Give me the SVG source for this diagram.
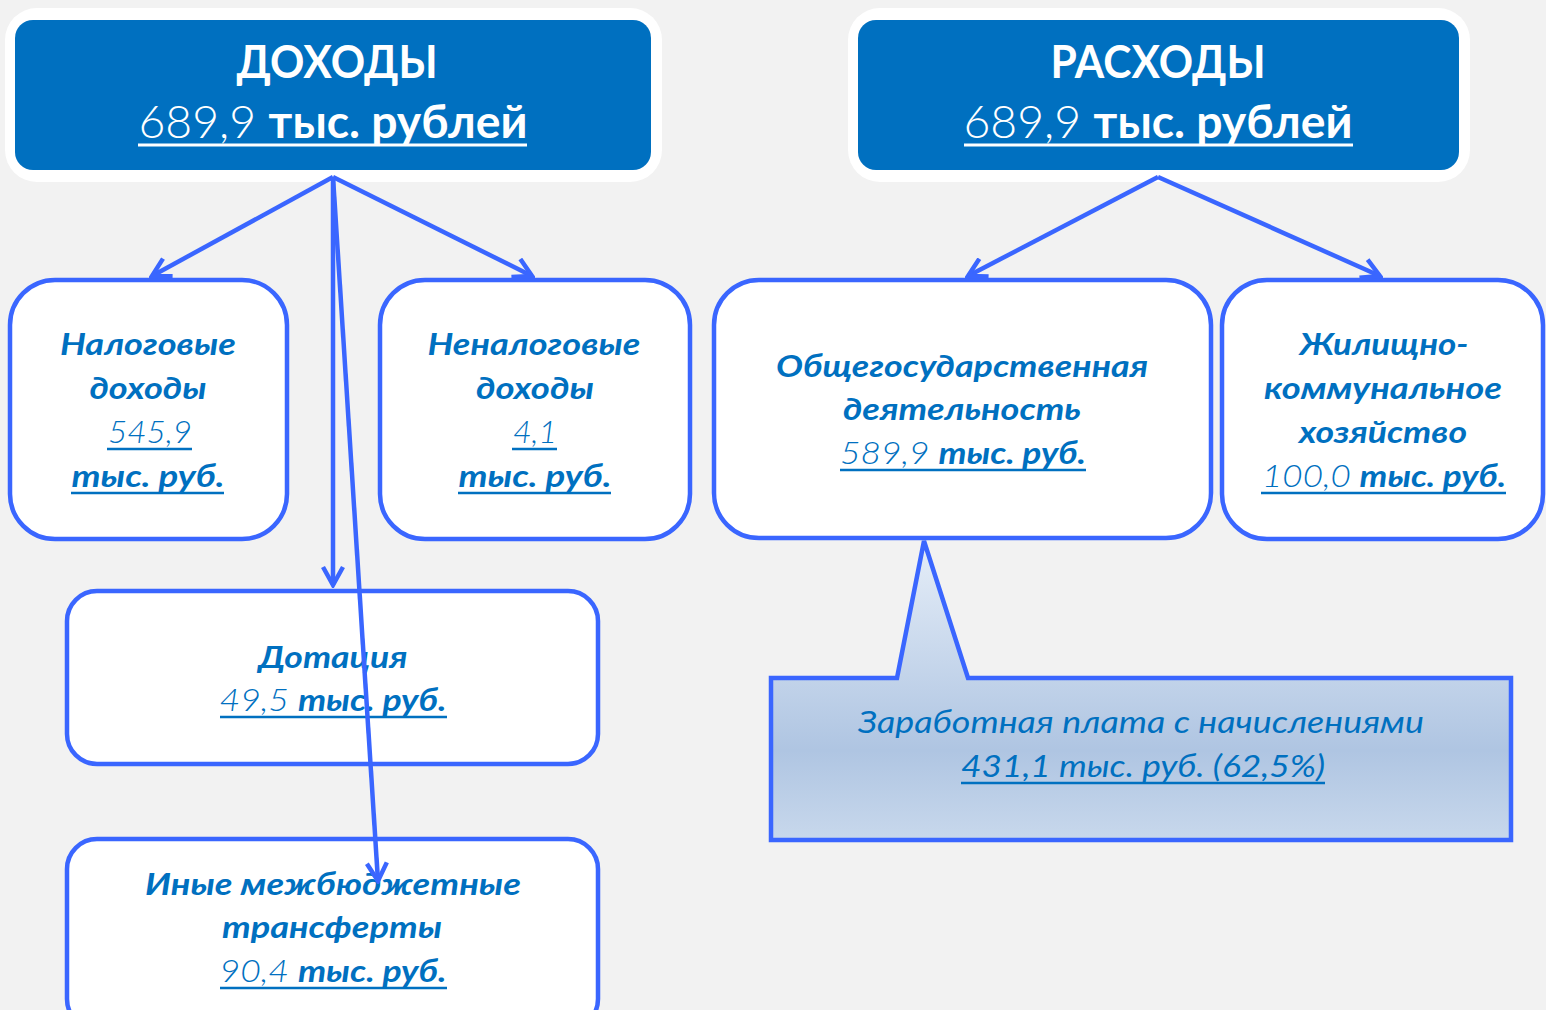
<svg xmlns="http://www.w3.org/2000/svg" width="1546" height="1010" viewBox="0 0 1546 1010">
<style>
.bg{fill:#f2f2f2}
.outer{fill:#ffffff}
.inner{fill:#0070c0}
.node{fill:#ffffff;stroke:#3a66ff;stroke-width:4.5}
.conn{stroke:#3a66ff;stroke-width:4.5;fill:none}
text{font-family:Lato,"Open Sans","Liberation Sans",sans-serif;text-anchor:middle}
.h{fill:#ffffff;font-size:46px;font-weight:bold}
.hn{fill:#ffffff;font-size:46px}
.t{fill:#0070c0;font-size:31px;font-weight:bold;font-style:italic}
.c{fill:#0070c0;font-size:31px;font-style:italic;font-weight:normal}
.l{font-weight:300}
.b{font-weight:bold}
.ul{stroke:#0070c0;stroke-width:2.5}
.ulw{stroke:#ffffff;stroke-width:3}
</style>
<defs>
<marker id="arr" viewBox="0 0 24 24" refX="21" refY="12" markerWidth="24" markerHeight="24" markerUnits="userSpaceOnUse" orient="auto">
<path d="M3,2 L21,12 L3,22" fill="none" stroke="#3a66ff" stroke-width="4.5" stroke-linejoin="miter"/>
</marker>
<linearGradient id="cg" x1="0" y1="0" x2="0" y2="1">
<stop offset="0" stop-color="#e6eef8"/>
<stop offset="0.7" stop-color="#afc5e2"/>
<stop offset="1" stop-color="#c8d8ec"/>
</linearGradient>
</defs>
<rect class="bg" x="0" y="0" width="1546" height="1010"/>

<g id="dohody">
<rect class="outer" x="5" y="8" width="657" height="174" rx="32"/>
<rect class="inner" x="15" y="20" width="636" height="150" rx="18"/>
<text class="h" x="337" y="78" textLength="201" lengthAdjust="spacingAndGlyphs">ДОХОДЫ</text>
<text class="hn" x="333" y="138" textLength="389" lengthAdjust="spacingAndGlyphs"><tspan class="l">689,9 </tspan><tspan class="b">тыс. рублей</tspan></text>
<line class="ulw" x1="138" y1="145" x2="527" y2="145"/>
</g>

<g id="rashody">
<rect class="outer" x="848" y="8" width="622" height="174" rx="32"/>
<rect class="inner" x="858" y="20" width="601" height="150" rx="18"/>
<text class="h" x="1158" y="78" textLength="215" lengthAdjust="spacingAndGlyphs">РАСХОДЫ</text>
<text class="hn" x="1158" y="138" textLength="389" lengthAdjust="spacingAndGlyphs"><tspan class="l">689,9 </tspan><tspan class="b">тыс. рублей</tspan></text>
<line class="ulw" x1="964" y1="145" x2="1353" y2="145"/>
</g>

<g id="nalogovye">
<rect class="node" x="10" y="280" width="277" height="259" rx="45"/>
<text class="t" x="148" y="355" textLength="176" lengthAdjust="spacingAndGlyphs">Налоговые</text>
<text class="t" x="148" y="399" textLength="117" lengthAdjust="spacingAndGlyphs">доходы</text>
<text class="t l" x="150" y="443" textLength="84" lengthAdjust="spacingAndGlyphs">545,9</text>
<line class="ul" x1="107" y1="449" x2="192" y2="449"/>
<text class="t" x="148" y="487" textLength="153" lengthAdjust="spacingAndGlyphs">тыс. руб.</text>
<line class="ul" x1="71" y1="493" x2="224" y2="493"/>
</g>

<g id="nenalogovye">
<rect class="node" x="380" y="280" width="310" height="259" rx="45"/>
<text class="t" x="534" y="355" textLength="213" lengthAdjust="spacingAndGlyphs">Неналоговые</text>
<text class="t" x="535" y="399" textLength="118" lengthAdjust="spacingAndGlyphs">доходы</text>
<text class="t l" x="535" y="443" textLength="44" lengthAdjust="spacingAndGlyphs">4,1</text>
<line class="ul" x1="512" y1="449" x2="557" y2="449"/>
<text class="t" x="535" y="487" textLength="153" lengthAdjust="spacingAndGlyphs">тыс. руб.</text>
<line class="ul" x1="458" y1="493" x2="611" y2="493"/>
</g>

<g id="obshchegos">
<rect class="node" x="714" y="280" width="497" height="258" rx="45"/>
<text class="t" x="962" y="377" textLength="372" lengthAdjust="spacingAndGlyphs">Общегосударственная</text>
<text class="t" x="962" y="420" textLength="238" lengthAdjust="spacingAndGlyphs">деятельность</text>
<text class="t" x="963" y="464" textLength="246" lengthAdjust="spacingAndGlyphs"><tspan class="l">589,9 </tspan><tspan class="b">тыс. руб.</tspan></text>
<line class="ul" x1="840" y1="470" x2="1086" y2="470"/>
</g>

<g id="zhkh">
<rect class="node" x="1222" y="280" width="321" height="259" rx="45"/>
<text class="t" x="1384" y="355" textLength="169" lengthAdjust="spacingAndGlyphs">Жилищно-</text>
<text class="t" x="1383" y="399" textLength="238" lengthAdjust="spacingAndGlyphs">коммунальное</text>
<text class="t" x="1383" y="443" textLength="168" lengthAdjust="spacingAndGlyphs">хозяйство</text>
<text class="t" x="1384" y="487" textLength="244" lengthAdjust="spacingAndGlyphs"><tspan class="l">100,0 </tspan><tspan class="b">тыс. руб.</tspan></text>
<line class="ul" x1="1261" y1="493" x2="1506" y2="493"/>
</g>

<g id="dotatsia">
<rect class="node" x="67" y="591" width="531" height="173" rx="30"/>
<text class="t" x="333" y="668" textLength="149" lengthAdjust="spacingAndGlyphs">Дотация</text>
<text class="t" x="333" y="711" textLength="227" lengthAdjust="spacingAndGlyphs"><tspan class="l">49,5 </tspan><tspan class="b">тыс. руб.</tspan></text>
<line class="ul" x1="220" y1="717" x2="447" y2="717"/>
</g>

<g id="inye">
<rect class="node" x="67" y="839" width="531" height="190" rx="30"/>
<text class="t" x="333" y="895" textLength="376" lengthAdjust="spacingAndGlyphs">Иные межбюджетные</text>
<text class="t" x="332" y="938" textLength="220" lengthAdjust="spacingAndGlyphs">трансферты</text>
<text class="t" x="333" y="982" textLength="227" lengthAdjust="spacingAndGlyphs"><tspan class="l">90,4 </tspan><tspan class="b">тыс. руб.</tspan></text>
<line class="ul" x1="220" y1="988" x2="447" y2="988"/>
</g>

<g id="zarplata">
<path d="M771,678 L897,678 L924,541 L968,678 L1511,678 L1511,840 L771,840 Z" fill="url(#cg)" stroke="#3a66ff" stroke-width="4.5" stroke-linejoin="miter"/>
<text class="c" x="1141" y="733" textLength="566" lengthAdjust="spacingAndGlyphs">Заработная плата с начислениями</text>
<text class="c" x="1143" y="777" textLength="364" lengthAdjust="spacingAndGlyphs">431,1 тыс. руб. (62,5%)</text>
<line class="ul" x1="961" y1="783" x2="1325" y2="783"/>
</g>

<g id="connectors">
<line class="conn" x1="333" y1="177" x2="152" y2="276" marker-end="url(#arr)"/>
<line class="conn" x1="333" y1="177" x2="532" y2="276" marker-end="url(#arr)"/>
<line class="conn" x1="333" y1="177" x2="333" y2="585" marker-end="url(#arr)"/>
<line class="conn" x1="333" y1="177" x2="378" y2="881" marker-end="url(#arr)"/>
<line class="conn" x1="1158" y1="177" x2="968" y2="276" marker-end="url(#arr)"/>
<line class="conn" x1="1158" y1="177" x2="1380" y2="276" marker-end="url(#arr)"/>
</g>
</svg>
